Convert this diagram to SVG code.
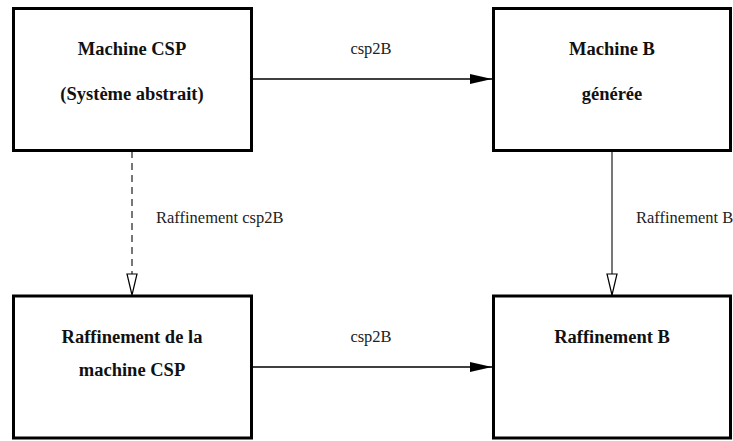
<svg xmlns="http://www.w3.org/2000/svg" width="733" height="441" viewBox="0 0 733 441">
<style>
.box{fill:#fff;stroke:#000;stroke-width:3}
.bt{font-weight:bold;font-size:18.5px;text-anchor:middle;fill:#111}
.lt{font-size:16.5px;fill:#222}
.h{stroke:#000;stroke-width:1.3;fill:none}
.v{stroke:#555;stroke-width:1.6;fill:none}
</style>
<defs>
<marker id="filled" markerWidth="22" markerHeight="10" refX="22" refY="5" orient="auto" markerUnits="userSpaceOnUse">
<path d="M0,0 L22,5 L0,10 Z" fill="#000"/>
</marker>
<marker id="open" markerWidth="12" markerHeight="24" refX="6" refY="22" orient="0" markerUnits="userSpaceOnUse">
<path d="M1,1 L11,1 L6,22 Z" fill="#fff" stroke="#000" stroke-width="1.2"/>
</marker>
</defs>
<g font-family="Liberation Serif, DejaVu Serif, serif">
<g id="connectors">
<line class="h" x1="253" y1="79" x2="492" y2="79" marker-end="url(#filled)"/>
<line class="h" x1="253" y1="367" x2="492" y2="367" marker-end="url(#filled)"/>
<line class="v" x1="132" y1="151" x2="132" y2="295" stroke-dasharray="7,5" marker-end="url(#open)"/>
<line class="v" x1="612" y1="151" x2="612" y2="295" marker-end="url(#open)"/>
<text class="lt" x="371" y="54" text-anchor="middle">csp2B</text>
<text class="lt" x="371" y="342" text-anchor="middle">csp2B</text>
<text class="lt" x="156" y="223">Raffinement csp2B</text>
<text class="lt" x="636" y="223">Raffinement B</text>
</g>
<g id="machine-csp">
<rect class="box" x="13.5" y="8.5" width="238" height="142"/>
<text class="bt" x="132" y="55">Machine CSP</text>
<text class="bt" x="132" y="100">(Système abstrait)</text>
</g>
<g id="machine-b">
<rect class="box" x="493.5" y="8.5" width="237" height="142"/>
<text class="bt" x="612" y="55">Machine B</text>
<text class="bt" x="612" y="100">générée</text>
</g>
<g id="raffinement-csp">
<rect class="box" x="13.5" y="296" width="238" height="142"/>
<text class="bt" x="132" y="343">Raffinement de la</text>
<text class="bt" x="132" y="376">machine CSP</text>
</g>
<g id="raffinement-b">
<rect class="box" x="493.5" y="296" width="237" height="142"/>
<text class="bt" x="612" y="343">Raffinement B</text>
</g>
</g>
</svg>
